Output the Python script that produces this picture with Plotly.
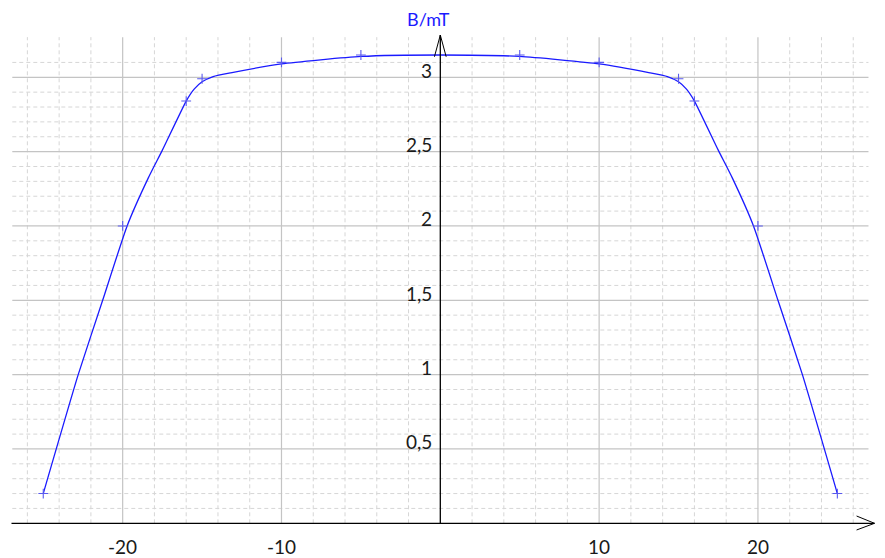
import plotly.graph_objects as go

# ---- data ----
meas_x = [-25, -20, -16, -15, -10, -5, 5, 10, 15, 16, 20, 25]
meas_B = [0.20, 2.00, 2.84, 2.99, 3.10, 3.15, 3.15, 3.10, 2.99, 2.84, 2.00, 0.20]

curve_x = [-25, -22.8, -21.26, -19.72, -18.4, -17.5, -16.0, -15.5, -15.0, -14.3, -13.2,
           -10, -5, 0, 5, 10, 13.2, 14.3, 15.0, 15.5, 16.0, 17.5, 18.4, 19.72, 21.26, 22.8, 25]
curve_B = [0.20, 1.00, 1.50, 2.00, 2.32, 2.51, 2.84, 2.92, 2.97, 3.005, 3.03,
           3.09, 3.14, 3.15, 3.14, 3.09, 3.03, 3.005, 2.97, 2.92, 2.84, 2.51, 2.32, 2.00, 1.50, 1.00, 0.20]

x_tick_vals = [-20, -10, 10, 20]
x_tick_text = ["-20", "-10", "10", "20"]
y_tick_vals = [0.5, 1, 1.5, 2, 2.5, 3]
y_tick_text = ["0,5", "1", "1,5", "2", "2,5", "3"]
y_title = "B/mT"

# ---- geometry (page has an 8px body margin) ----
W, H = 877, 550
X0, X1 = -27.22, 28.00
Y0, Y1 = -0.2334, 3.466
GX0, GX1 = -26.95, 26.96
GY1 = 3.27

MAJOR = "#c4c4c4"
MINOR = "#d6d6d6"
BLUE = "#1a1aff"

shapes = []
for i in range(-13, 14):
    v = 2 * i
    if v % 10 == 0:
        continue
    shapes.append(dict(type="line", xref="x", yref="y", x0=v, x1=v, y0=0, y1=GY1,
                       line=dict(color=MINOR, width=1, dash="4px,3px"), layer="below"))
for k in range(1, 32):
    if k % 5 == 0:
        continue
    v = k / 10
    shapes.append(dict(type="line", xref="x", yref="y", x0=GX0, x1=GX1, y0=v, y1=v,
                       line=dict(color=MINOR, width=1, dash="4px,3px"), layer="below"))
for v in x_tick_vals:
    shapes.append(dict(type="line", xref="x", yref="y", x0=v, x1=v, y0=0, y1=GY1,
                       line=dict(color=MAJOR, width=1.2), layer="below"))
for v in y_tick_vals:
    shapes.append(dict(type="line", xref="x", yref="y", x0=GX0, x1=GX1, y0=v, y1=v,
                       line=dict(color=MAJOR, width=1.2), layer="below"))
AX = dict(color="#000000", width=1.3)
shapes.append(dict(type="line", xref="x", yref="y", x0=-27.0, x1=27.34, y0=0, y1=0, line=AX))
shapes.append(dict(type="line", xref="x", yref="y", x0=0, x1=0, y0=0, y1=3.284, line=AX))
shapes.append(dict(type="path", xref="x", yref="y",
                   path="M 26.21 0.049 L 27.34 0 L 26.21 -0.045", line=dict(color="#000000", width=1)))
shapes.append(dict(type="path", xref="x", yref="y",
                   path="M -0.37 3.138 L 0 3.284 L 0.37 3.138", line=dict(color="#000000", width=1)))

fig = go.Figure()
fig.add_trace(go.Scatter(x=curve_x, y=curve_B, mode="lines",
                         line=dict(color=BLUE, width=1.3, shape="spline", smoothing=0.5),
                         hoverinfo="skip", showlegend=False))
fig.add_trace(go.Scatter(x=meas_x, y=meas_B, mode="markers",
                         marker=dict(symbol="cross-thin", size=7, color="#5a5aee",
                                     line=dict(color="#5a5aee", width=1.1)),
                         showlegend=False))

annotations = []
FONT = "Lato, 'Liberation Sans', sans-serif"
for v, t in zip(x_tick_vals, x_tick_text):
    annotations.append(dict(x=v, y=-0.155, xref="x", yref="y", text=t, showarrow=False,
                            xanchor="center", yanchor="middle",
                            font=dict(family=FONT, size=19, color="#1a1a1a")))
for v, t in zip(y_tick_vals, y_tick_text):
    annotations.append(dict(x=-0.4, y=v, xref="x", yref="y", text=t, showarrow=False,
                            xanchor="right", yanchor="middle", yshift=7,
                            font=dict(family=FONT, size=19, color="#1a1a1a")))
annotations.append(dict(x=-0.77, y=3.395, xref="x", yref="y", text=y_title, showarrow=False,
                        xanchor="center", yanchor="middle", borderpad=0,
                        font=dict(family=FONT, size=18, color=BLUE)))

fig.update_layout(
    width=W, height=H,
    margin=dict(l=0, r=0, t=0, b=0),
    paper_bgcolor="white", plot_bgcolor="white",
    xaxis=dict(visible=False, range=[X0, X1], fixedrange=True),
    yaxis=dict(visible=False, range=[Y0, Y1], fixedrange=True),
    shapes=shapes, annotations=annotations,
)
fig.write_html("out.html")
